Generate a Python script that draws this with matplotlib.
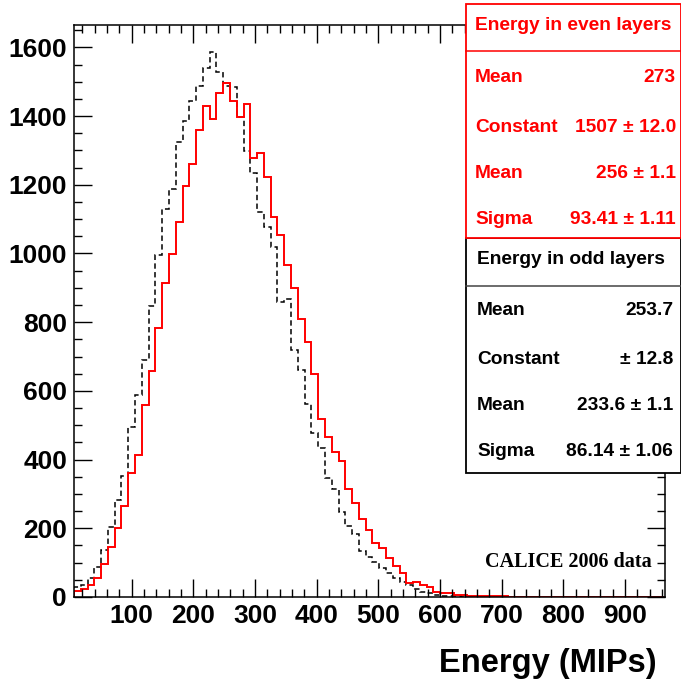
import numpy as np
import matplotlib.pyplot as plt
from matplotlib.patches import Rectangle
from matplotlib.ticker import MultipleLocator
from matplotlib.lines import Line2D

plt.rcParams['font.family'] = ['Liberation Sans', 'DejaVu Sans']
plt.rcParams['font.weight'] = 'bold'

# histogram binning (MIPs)
x_lo = 6.5
bin_w = 11.0
n_bins = 87
edges = x_lo + bin_w * np.arange(n_bins + 1)

# energy in even layers (red)
even_counts = [18, 22, 35, 56, 96, 146, 202, 266, 362, 412,
               558, 657, 783, 914, 997, 1091, 1197, 1259, 1359, 1429,
               1390, 1468, 1496, 1443, 1397, 1436, 1277, 1291, 1222, 1105,
               1053, 966, 900, 809, 741, 649, 518, 466, 423, 397,
               314, 273, 228, 195, 157, 142, 114, 91, 70, 42,
               44, 35, 30, 14, 13, 12, 5, 5, 4, 3,
               3, 2, 2, 2, 1, 1, 1, 1, 0, 1,
               0, 1, 0, 0, 1, 0, 0, 0, 1, 0,
               0, 0, 0, 0, 0, 0, 0]

# energy in odd layers (black dashed)
odd_counts = [30, 35, 54, 88, 137, 205, 282, 353, 495, 589,
              689, 846, 995, 1129, 1189, 1323, 1386, 1443, 1488, 1540,
              1586, 1528, 1488, 1485, 1396, 1299, 1235, 1121, 1077, 1019,
              859, 866, 719, 662, 561, 476, 433, 345, 314, 248,
              207, 182, 135, 115, 103, 83, 69, 54, 43, 35,
              22, 15, 11, 5, 3, 3, 2, 1, 1, 1,
              0, 0, 1, 0, 0, 0, 0, 0, 0, 0,
              0, 0, 0, 0, 0, 0, 0, 0, 0, 0,
              0, 0, 0, 0, 0, 0, 0]

even_stats = [("Mean", "273"), ("Constant", "1507 \u00b1 12.0"),
              ("Mean", "256 \u00b1 1.1"), ("Sigma", "93.41 \u00b1 1.11")]
odd_stats = [("Mean", "253.7"), ("Constant", "\u00b1 12.8"),
             ("Mean", "233.6 \u00b1 1.1"), ("Sigma", "86.14 \u00b1 1.06")]

W, H = 681, 679
fig = plt.figure(figsize=(W / 100, H / 100), dpi=100)
ax = fig.add_axes([74 / W, 1 - 597 / H, (665 - 74) / W, (597 - 25) / H])

ax.stairs(odd_counts, edges, color='black', lw=1.1, ls=(0, (3.5, 2.2)))
ax.stairs(even_counts, edges, color='red', lw=1.4)

ax.set_xlim(x_lo, 965)
ax.set_ylim(0, 1665)
ax.xaxis.set_major_locator(MultipleLocator(100))
ax.xaxis.set_minor_locator(MultipleLocator(20))
ax.yaxis.set_major_locator(MultipleLocator(200))
ax.yaxis.set_minor_locator(MultipleLocator(50))
ax.tick_params(which='both', direction='in', top=True, right=True,
               labelsize=19, width=1.0)
ax.tick_params(which='major', length=13, pad=5)
ax.tick_params(which='minor', length=6)
for s in ax.spines.values():
    s.set_linewidth(1.1)

fig.text(657 / W, 1 - 672 / H, "Energy (MIPs)", ha='right', va='baseline',
         fontsize=23.5, fontweight='bold')
ax.text(0.978, 0.052, "CALICE 2006 data", transform=ax.transAxes,
        ha='right', va='baseline', fontsize=14.5, fontweight='bold',
        family='Liberation Serif')


def px(x, y):
    return x / W, 1 - y / H


def stat_box(top, bottom, sep, color, sepcolor, title, rows, row_y, xl, xr):
    x0, y0 = px(466, bottom)
    rect = Rectangle((x0, y0), (W - 466) / W, (bottom - top) / H,
                     transform=fig.transFigure, facecolor='white',
                     edgecolor=color, lw=1.3, zorder=5)
    fig.patches.append(rect)
    fig.lines.append(Line2D([466 / W, 1], [1 - sep / H] * 2,
                            transform=fig.transFigure, color=sepcolor,
                            lw=1.1, zorder=6))
    tx, ty = px(xl, top + 22)
    fig.text(tx, ty, title, color=color, fontsize=13.8, fontweight='bold',
             ha='left', va='center', zorder=7)
    for (name, val), yy in zip(rows, row_y):
        fig.text(xl / W, 1 - yy / H, name, color=color, fontsize=13.8,
                 fontweight='bold', ha='left', va='center', zorder=7)
        fig.text(xr / W, 1 - yy / H, val, color=color, fontsize=13.8,
                 fontweight='bold', ha='right', va='center', zorder=7)


stat_box(238, 473, 286, 'black', '#444444', "Energy in odd layers",
         odd_stats, [311, 359, 406, 451], 477, 673)
stat_box(4, 238, 51, 'red', 'red', "Energy in even layers",
         even_stats, [78, 127, 173, 219], 475, 676)

fig.savefig('out.png', dpi=100)
